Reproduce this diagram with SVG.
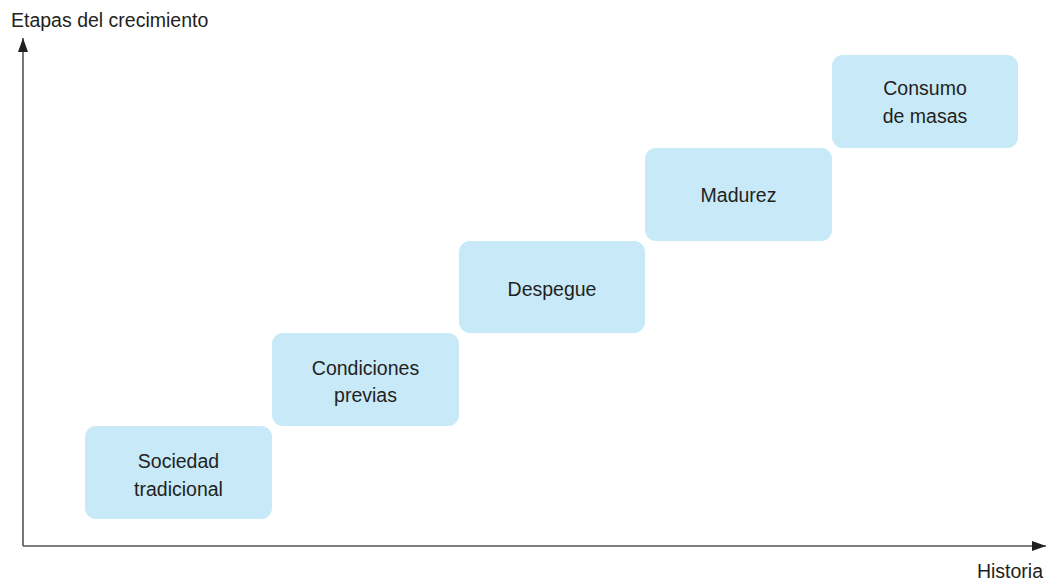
<svg xmlns="http://www.w3.org/2000/svg" width="1049" height="580" viewBox="0 0 1049 580">
<defs>
<style>
.box{fill:#c8e9f8;}
.t{font-family:"Liberation Sans",Arial,sans-serif;font-size:19.5px;fill:#231f20;}
.c{text-anchor:middle;}
.ax{stroke:#555;stroke-width:1.6;fill:none;}
</style>
<marker id="ah" viewBox="0 0 14 10" refX="14" refY="5" markerWidth="14" markerHeight="10" markerUnits="userSpaceOnUse" orient="auto">
<path d="M0,0 L14,5 L0,10 Z" fill="#231f20"/>
</marker>
</defs>
<rect width="1049" height="580" fill="#fff"/>
<g id="connectors">
<path class="ax" d="M23,546 V38" marker-end="url(#ah)"/>
<path class="ax" d="M23,546 H1046" marker-end="url(#ah)"/>
</g>
<text class="t" x="11" y="27">Etapas del crecimiento</text>
<text class="t" x="1043" y="578" text-anchor="end">Historia</text>
<g id="n1">
<rect class="box" x="85" y="426" width="187" height="93" rx="11"/>
<text class="t c" x="178.5" y="468">Sociedad</text>
<text class="t c" x="178.5" y="496">tradicional</text>
</g>
<g id="n2">
<rect class="box" x="272" y="333" width="187" height="93" rx="11"/>
<text class="t c" x="365.5" y="375">Condiciones</text>
<text class="t c" x="365.5" y="402">previas</text>
</g>
<g id="n3">
<rect class="box" x="459" y="241" width="186" height="92" rx="11"/>
<text class="t c" x="552" y="296">Despegue</text>
</g>
<g id="n4">
<rect class="box" x="645" y="148" width="187" height="93" rx="11"/>
<text class="t c" x="738.5" y="202">Madurez</text>
</g>
<g id="n5">
<rect class="box" x="832" y="55" width="186" height="93" rx="11"/>
<text class="t c" x="925" y="95">Consumo</text>
<text class="t c" x="925" y="123">de masas</text>
</g>
</svg>
